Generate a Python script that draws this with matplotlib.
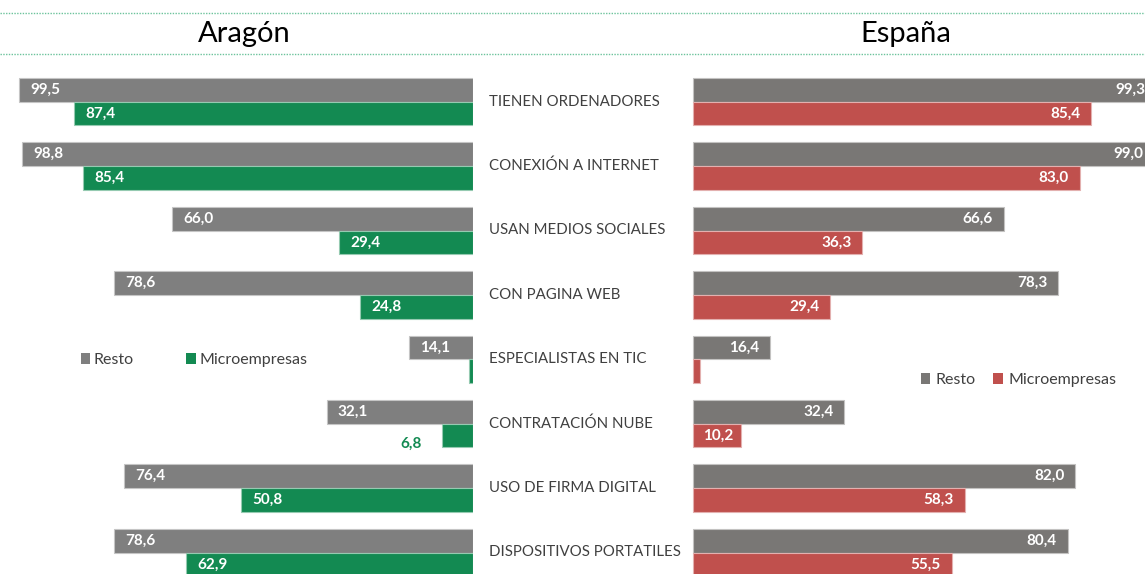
import matplotlib
matplotlib.use("Agg")
import matplotlib.pyplot as plt
import matplotlib.transforms as mtransforms
from matplotlib.lines import Line2D
import numpy as np

plt.rcParams['font.family'] = ['Lato', 'DejaVu Sans']

categories = ["TIENEN ORDENADORES", "CONEXIÓN A INTERNET", "USAN MEDIOS SOCIALES",
              "CON PAGINA WEB", "ESPECIALISTAS EN TIC", "CONTRATACIÓN NUBE",
              "USO DE FIRMA DIGITAL", "DISPOSITIVOS PORTATILES"]
aragon_resto = [99.5, 98.8, 66.0, 78.6, 14.1, 32.1, 76.4, 78.6]
aragon_micro = [87.4, 85.4, 29.4, 24.8, 0.9, 6.8, 50.8, 62.9]
espana_resto = [99.3, 99.0, 66.6, 78.3, 16.4, 32.4, 82.0, 80.4]
espana_micro = [85.4, 83.0, 36.3, 29.4, 1.4, 10.2, 58.3, 55.5]
series_names = ["Resto", "Microempresas"]
panel_titles = ["Aragón", "España"]

W, H = 1145, 574
fig = plt.figure(figsize=(W / 100, H / 100), dpi=100)

GRAY_A = '#7f7f7f'
GRAY_E = '#797775'
GREEN = '#138a52'
RED = '#c0504d'
TXT = '#404040'

row_px = 64.4
first_px = 101.7
bar_h = 23.7 / row_px
ytop = -first_px / row_px
ybot = (H - first_px) / row_px

def lighter(c, f=0.55):
    rgb = np.array(matplotlib.colors.to_rgb(c))
    return tuple(rgb + (1 - rgb) * f)

# Left panel (Aragón), inverted x
left_w = 473.3
sc_l = 4.567
axL = fig.add_axes([0, 0, left_w / W, 1])
axL.set_xlim(left_w / sc_l, 0)
axL.set_ylim(ybot, ytop)
axL.axis('off')

# Right panel (España)
right_x0 = 693.3
sc_r = 4.66
axR = fig.add_axes([right_x0 / W, 0, (W - right_x0) / W, 1])
axR.set_xlim(0, (W - right_x0) / sc_r)
axR.set_ylim(ybot, ytop)
axR.axis('off')

y = np.arange(len(categories))

bl1 = axL.barh(y - bar_h / 2, aragon_resto, height=bar_h, color=GRAY_A,
               edgecolor=lighter(GRAY_A), linewidth=0.8, label=series_names[0])
bl2 = axL.barh(y + bar_h / 2, aragon_micro, height=bar_h, color=GREEN,
               edgecolor=lighter(GREEN), linewidth=0.8, label=series_names[1])
br1 = axR.barh(y - bar_h / 2, espana_resto, height=bar_h, color=GRAY_E,
               edgecolor=lighter(GRAY_E), linewidth=0.8, label=series_names[0])
br2 = axR.barh(y + bar_h / 2, espana_micro, height=bar_h, color=RED,
               edgecolor=lighter(RED), linewidth=0.8, label=series_names[1])
for b in list(br1) + list(br2):
    b.set_clip_on(False)

PT = 72 / 100  # points per pixel
pad = 11 * PT
lab_fs = 11

def fmt(v):
    return f"{v:.1f}".replace('.', ',')

# Aragón labels: left-aligned at bar end (left side)
for i, v in enumerate(aragon_resto):
    axL.annotate(fmt(v), (v, i - bar_h / 2), xytext=(pad, 0), textcoords='offset points',
                 ha='left', va='center', color='white', fontsize=lab_fs, fontweight='bold')
for i, v in enumerate(aragon_micro):
    if v < 2:
        continue
    if v < 10:
        axL.annotate(fmt(v), (v, i + bar_h / 2), xytext=(-20 * PT, -8 * PT), textcoords='offset points',
                     ha='right', va='center', color=GREEN, fontsize=lab_fs, fontweight='bold')
    else:
        axL.annotate(fmt(v), (v, i + bar_h / 2), xytext=(pad, 0), textcoords='offset points',
                     ha='left', va='center', color='white', fontsize=lab_fs, fontweight='bold')

# España labels: right-aligned at bar end
for i, v in enumerate(espana_resto):
    axR.annotate(fmt(v), (v, i - bar_h / 2), xytext=(-pad, 0), textcoords='offset points',
                 ha='right', va='center', color='white', fontsize=lab_fs, fontweight='bold',
                 annotation_clip=False)
for i, v in enumerate(espana_micro):
    if v < 2:
        continue
    p = -7 * PT if v < 15 else -pad
    axR.annotate(fmt(v), (v, i + bar_h / 2), xytext=(p, 0), textcoords='offset points',
                 ha='right', va='center', color='white', fontsize=lab_fs, fontweight='bold',
                 annotation_clip=False)

# Category labels
trans = mtransforms.blended_transform_factory(fig.transFigure, axL.transData)
for i, c in enumerate(categories):
    axL.text(489 / W, i, c, transform=trans, ha='left', va='center',
             fontsize=10.8, color=TXT, clip_on=False)

# Titles
fig.text(244 / W, 1 - 34 / H, panel_titles[0], ha='center', va='center', fontsize=21, color='black')
fig.text(905.5 / W, 1 - 34 / H, panel_titles[1], ha='center', va='center', fontsize=21, color='black')

# Dotted separator lines
for yy in (12.5, 53.7):
    fig.add_artist(Line2D([0, 1], [1 - yy / H] * 2, transform=fig.transFigure,
                          linestyle=(0, (1, 1)), color='#6cc39c', lw=1.0))

# Legends
legL = axL.legend(handles=[bl1, bl2], loc='center left',
                  bbox_to_anchor=(80.5 / W, 1 - 360 / H), bbox_transform=fig.transFigure,
                  ncol=2, frameon=False, fontsize=11.5, handlelength=0.62, handleheight=0.62,
                  handletextpad=0.2, columnspacing=3.3, borderpad=0, borderaxespad=0,
                  labelcolor=TXT)
legR = axR.legend(handles=[br1, br2], loc='center left',
                  bbox_to_anchor=(920.5 / W, 1 - 380 / H), bbox_transform=fig.transFigure,
                  ncol=2, frameon=False, fontsize=11.5, handlelength=0.62, handleheight=0.62,
                  handletextpad=0.32, columnspacing=1.1, borderpad=0, borderaxespad=0,
                  labelcolor=TXT)
for leg in (legL, legR):
    for h in leg.legend_handles:
        h.set_linewidth(0)

fig.savefig("out.png", dpi=100)
